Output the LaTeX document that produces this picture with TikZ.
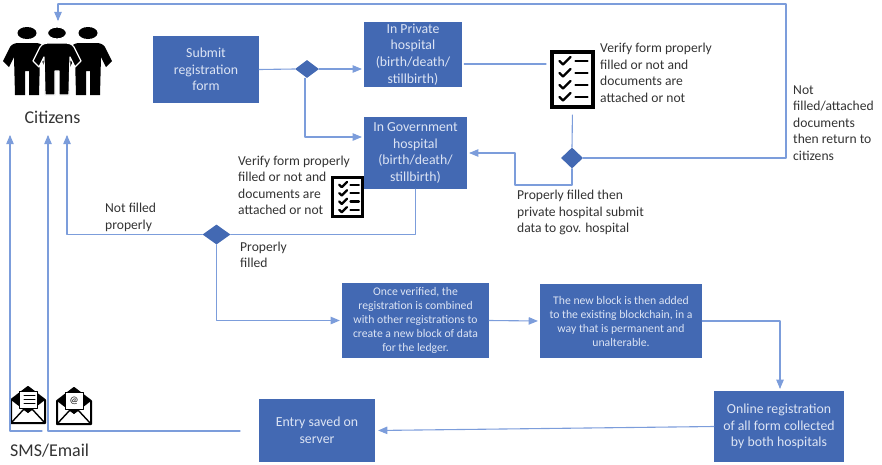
\documentclass[tikz,border=0pt]{standalone}
\usepackage{fontspec}
\setmainfont{Carlito}
\usetikzlibrary{arrows}
\usetikzlibrary{shapes.geometric}
\definecolor{boxblue}{HTML}{4369B3}
\definecolor{boxtext}{HTML}{DCE4F4}
\definecolor{linkblue}{HTML}{7C9DDB}
\definecolor{labelgray}{HTML}{333333}
\tikzset{
  flowbox/.style={fill=boxblue,text=boxtext,align=center,inner sep=0pt,font=\fontsize{13.8}{16.6}\selectfont},
  chainbox/.style={flowbox,font=\fontsize{11.7}{14}\selectfont},
  decision/.style={diamond,fill=boxblue,inner sep=0pt},
  link/.style={draw=linkblue,line width=1.1pt},
  tiplink/.style={link,->},
  remark/.style={anchor=west,align=left,inner sep=0pt,text=labelgray,font=\fontsize{13.6}{16.5}\selectfont},
  listframe/.style={draw=black,line width=4pt,line join=miter,fill=white,inner sep=0pt},
  personedge/.style={},
  person/.pic={
    \path[fill=black,personedge] (0,0) ellipse (9.5 and 6);
    \path[fill=black,personedge] (-8,10) -- (8,10) .. controls (12,10) and (15,11) .. (17,14) -- (24,28) -- (18,34) -- (13,24)
      -- (12,62) -- (2,62) -- (2,38) -- (-2,38) -- (-2,62) -- (-12,62) -- (-13,24) -- (-18,34) -- (-24,28) -- (-17,14)
      .. controls (-15,11) and (-12,10) .. (-8,10) -- cycle;
  },
  checks/.pic={
    \foreach \y in {11,23,35,47} {
      \draw[black,line width=2.3pt] (9,\y) -- (12.5,\y+3.5) -- (20,\y-4);
      \draw[black,line width=2.3pt] (25,\y) -- (37,\y);
    }
  },
  envelope/.pic={
    \filldraw[fill=white,draw=black,line width=2pt] (0,14) -- (17,1) -- (34,14) -- (34,37) -- (0,37) -- cycle;
    \fill[black] (0,14) -- (17,1) -- (34,14) -- (17,27) -- cycle;
    \filldraw[fill=white,draw=black,line width=0.8pt] (8,5) rectangle (26,22);
    \draw[black,line width=1.4pt] (0,37) -- (13,23);
    \draw[black,line width=1.4pt] (34,37) -- (21,23);
    \draw[black,line width=1.4pt] (13,23) -- (17,26) -- (21,23);
  }
}
\begin{document}
\begin{tikzpicture}[line cap=round,line join=round,>=triangle 45,x=1pt,y=-1pt]
  \useasboundingbox (0,0) rectangle (882,464);
  % boxes
  \node[flowbox,minimum width=106pt,minimum height=67pt] (submit) at (206,69.5) {Submit\\registration\\form};
  \node[flowbox,minimum width=98pt,minimum height=65pt] (privhosp) at (413,54.5) {In Private\\hospital\\(birth/death/\\stillbirth)};
  \node[flowbox,minimum width=103pt,minimum height=72pt] (govhosp) at (415.5,153) {In Government\\hospital\\(birth/death/\\stillbirth)};
  \node[chainbox,minimum width=147pt,minimum height=75pt] (ledger) at (415.5,320.5) {Once verified, the\\registration is combined\\with other registrations to\\create a new block of data\\for the ledger.};
  \node[chainbox,minimum width=162pt,minimum height=74pt] (chain) at (621,321) {The new block is then added\\to the existing blockchain, in a\\way that is permanent and\\unalterable.};
  \node[flowbox,minimum width=130pt,minimum height=71pt] (online) at (779,426.5) {Online registration\\of all form collected\\by both hospitals};
  \node[flowbox,minimum width=116pt,minimum height=63pt] (server) at (317,430.5) {Entry saved on\\server};
  % decisions
  \node[decision,minimum width=24pt,minimum height=18pt] (decform) at (307,69) {};
  \node[decision,minimum width=28pt,minimum height=20pt] (decgov) at (216.5,234.5) {};
  \node[decision,minimum width=22pt,minimum height=21pt] (decpriv) at (572,158) {};
  % check lists
  \node[listframe,minimum width=41pt,minimum height=55pt] (listpriv) at (572.5,79.5) {};
  \pic at (550.5,50) {checks};
  \node[listframe,line width=3pt,minimum width=30pt,minimum height=39pt] (listgov) at (347.5,197) {};
  \pic[scale=0.7] at (333,177) {checks};
  % citizens
  \pic at (27,33) {person};
  \pic at (88,33) {person};
  \pic[personedge/.style={draw=white,line width=1.2pt}] at (57,33) {person};
  \node[text=labelgray,inner sep=0pt,font=\fontsize{18}{20}\selectfont] (citizens) at (52.5,117) {Citizens};
  % mail
  \pic at (11,386) {envelope};
  \pic at (57,387) {envelope};
  \foreach \y in {395,399,403} \draw[black,line width=1pt] (24,\y) -- (35,\y);
  \node[inner sep=0pt,font=\fontsize{10}{12}\selectfont,text=black] (mailat) at (74,401) {@};
  \node[remark,font=\fontsize{18}{20}\selectfont] (smsmail) at (10,451) {SMS/Email};
  % labels
  \node[remark] (verifypriv) at (600,73) {Verify form properly\\filled or not and\\documents are\\attached or not};
  \node[remark] (verifygov) at (238,185.5) {Verify form properly\\filled or not and\\documents are\\attached or not};
  \node[remark] (notfilled) at (105,217.5) {Not filled\\properly};
  \node[remark] (filled) at (240,255) {Properly\\filled};
  \node[remark] (submitgov) at (517,212.5) {Properly filled then\\private hospital submit\\data to gov. hospital};
  \node[remark] (returnback) at (793,123) {Not\\filled/attached\\documents\\then return to\\citizens};
  % free ends
  \coordinate (topright) at (786,4);
  \coordinate (topleft) at (58,4);
  \coordinate (people) at (58,21);
  \coordinate (retgov) at (67,135);
  \coordinate (retsaved) at (48,135);
  \coordinate (retmail) at (10,135);
  \coordinate (savedend) at (240,431);
  \coordinate (savedcorner) at (48,431);
  \coordinate (mailend) at (42,431);
  \coordinate (mailcorner) at (10,431);
  % connectors
  \draw[link] (submit.east) -- (decform.west);
  \draw[tiplink,shorten >=2pt] (decform.east) -- (privhosp.west |- decform.east);
  \draw[tiplink,shorten >=2pt] (decform.south -| 305,0) |- (govhosp.west |- 0,137);
  \draw[link,shorten >=4pt,shorten <=2pt] (privhosp.east |- 0,64) -- (listpriv.west |- 0,64);
  \draw[link,shorten <=6pt] (listpriv.south) -- (decpriv.north);
  \draw[tiplink,shorten >=2pt] (decpriv.south) |- (515,185) |- (govhosp.east |- 0,153);
  \draw[link] (decpriv.east) -| (topright) -- (topleft);
  \draw[tiplink] (topleft) -- (people);
  \draw[link] (govhosp.south) |- (decgov.east);
  \draw[tiplink] (decgov.west) -| (retgov);
  \draw[tiplink,shorten >=2pt] (decgov.south) |- (ledger.west);
  \draw[tiplink,shorten >=2pt] (ledger.east) -- (chain.west);
  \draw[tiplink,shorten >=2pt] (chain.east) -| (online.north -| 780,0);
  \draw[tiplink,shorten >=3pt] (online.west) -- (server.east);
  \draw[tiplink] (savedend) -- (savedcorner) -- (retsaved);
  \draw[tiplink] (mailend) -- (mailcorner) -- (retmail);
\end{tikzpicture}
\end{document}
